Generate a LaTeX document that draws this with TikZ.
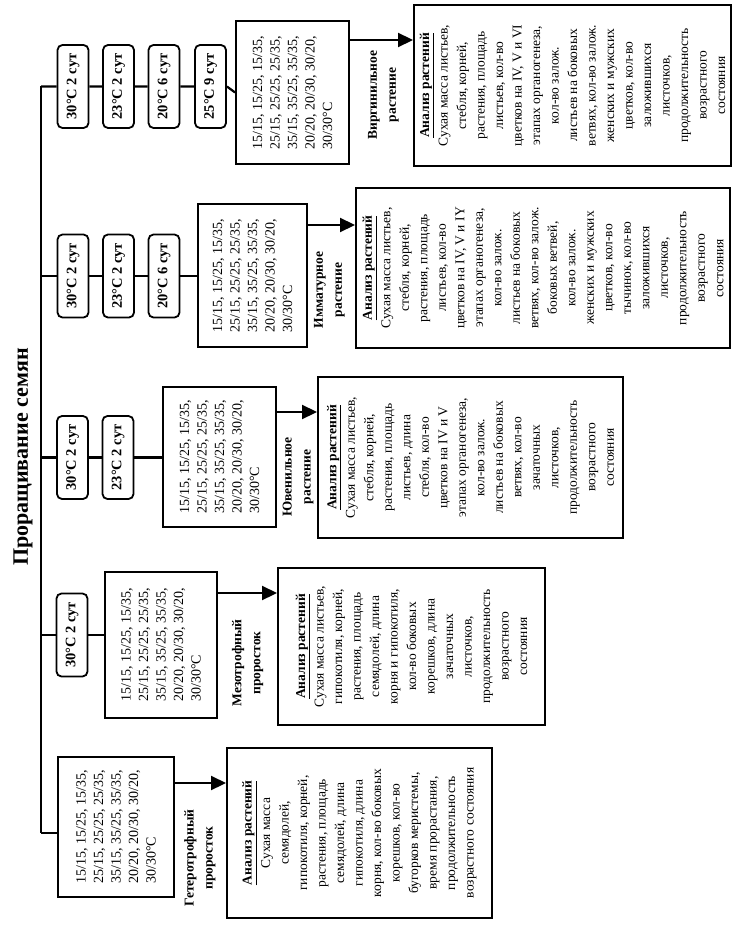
\documentclass[tikz,border=0pt]{standalone}
\usepackage{fontspec}
\setmainfont{Liberation Serif}
\usetikzlibrary{arrows.meta}
\newcommand\AnHead{\underline{\textbf{Анализ растений}}}
\newcommand\DataText{15/15, 15/25, 15/35,\\25/15, 25/25, 25/35,\\35/15, 35/25, 35/35,\\20/20, 20/30, 30/20,\\30/30°C}
\begin{document}
\begin{tikzpicture}[x=1pt,y=-1pt,
  ln/.style={line width=2.2pt},
  tbox/.style={draw, line width=1.8pt, rounded corners=5pt, rotate=90, minimum width=83pt, minimum height=31pt, inner sep=0pt, font=\bfseries\fontsize{14.5}{15}\selectfont},
  dbox/.style={draw, line width=1.8pt, rotate=90, inner sep=0pt, align=left, font=\fontsize{14}{17.5}\selectfont},
  abox/.style={draw, line width=2pt, rotate=90, inner sep=0pt, align=center, font=\fontsize{13.5}{18.5}\selectfont},
  lbl/.style={rotate=90, align=center, inner sep=0pt, font=\bfseries\fontsize{13.5}{19}\selectfont},
  arr/.style={line width=2.2pt, -{Triangle[length=15pt,width=14pt]}},
  ttl/.style={rotate=90, inner sep=0pt, font=\bfseries\fontsize{22}{24}\selectfont}]
\useasboundingbox[fill=white] (0,0) rectangle (734,928);

% title
\node[ttl] (title) at (23,457) {Проращивание семян};

% spine coordinates
\coordinate (b5) at (41,86.5);
\coordinate (b4) at (41,276);
\coordinate (b3) at (41,457.5);
\coordinate (b2) at (41,635);
\coordinate (b1) at (41,833);

% arrow heights
\coordinate (ar5) at (0,40);
\coordinate (ar4) at (0,225);
\coordinate (ar3) at (0,412);
\coordinate (ar2) at (0,593);
\coordinate (ar1) at (0,783);

% temperature boxes
\node[tbox] (t51) at (73,86.5) {30°C 2 сут};
\node[tbox] (t52) at (118.5,86.5) {23°C 2 сут};
\node[tbox] (t53) at (164,86.5) {20°C 6 сут};
\node[tbox] (t54) at (210.5,86.5) {25°C 9 сут};
\node[tbox] (t41) at (73,276) {30°C 2 сут};
\node[tbox] (t42) at (118.5,276) {23°C 2 сут};
\node[tbox] (t43) at (164,276) {20°C 6 сут};
\node[tbox] (t31) at (72.5,457.5) {30°C 2 сут};
\node[tbox] (t32) at (118,457.5) {23°C 2 сут};
\node[tbox] (t21) at (72,635) {30°C 2 сут};

% data boxes
\node[dbox, minimum width=143pt, minimum height=113pt] (d5) at (292.5,92.5) {\DataText};
\node[dbox, minimum width=143pt, minimum height=109pt] (d4) at (252.5,275.5) {\DataText};
\node[dbox, minimum width=140pt, minimum height=113pt] (d3) at (219.5,457) {\DataText};
\node[dbox, minimum width=146pt, minimum height=112pt] (d2) at (161,645) {\DataText};
\node[dbox, minimum width=140pt, minimum height=116pt] (d1) at (116,827) {\DataText};

% analysis boxes
\node[abox, minimum width=161pt, minimum height=317pt] (a5) at (572.5,85.5) {\AnHead\\Сухая масса листьев,\\стебля, корней,\\растения, площадь\\листьев, кол-во\\цветков на IV, V и VI\\этапах органогенеза,\\кол-во залож.\\листьев на боковых\\ветвях, кол-во залож.\\женских и мужских\\цветков, кол-во\\заложившихся\\листочков,\\продолжительность\\возрастного\\состояния};
\node[abox, minimum width=160pt, minimum height=374pt] (a4) at (543,268) {\AnHead\\Сухая масса листьев,\\стебля, корней,\\растения, площадь\\листьев, кол-во\\цветков на IV, V и IY\\этапах органогенеза,\\кол-во залож.\\листьев на боковых\\ветвях, кол-во залож.\\боковых ветвей,\\кол-во залож.\\женских и мужских\\цветков, кол-во\\тычинок, кол-во\\заложившихся\\листочков,\\продолжительность\\возрастного\\состояния};
\node[abox, minimum width=161pt, minimum height=305pt] (a3) at (470.5,457.5) {\AnHead\\Сухая масса листьев,\\стебля, корней,\\растения, площадь\\листьев, длина\\стебля, кол-во\\цветков на IV и V\\этапах органогенеза,\\кол-во залож.\\листьев на боковых\\ветвях, кол-во\\зачаточных\\листочков,\\продолжительность\\возрастного\\состояния};
\node[abox, minimum width=157pt, minimum height=267pt] (a2) at (411.5,646.5) {\AnHead\\Сухая масса листьев,\\гипокотиля, корней,\\растения, площадь\\семядолей, длина\\корня и гипокотиля,\\кол-во боковых\\корешков, длина\\зачаточных\\листочков,\\продолжительность\\возрастного\\состояния};
\node[abox, minimum width=170pt, minimum height=265pt] (a1) at (359.5,833) {\AnHead\\Сухая масса\\семядолей,\\гипокотиля, корней,\\растения, площадь\\семядолей, длина\\гипокотиля, длина\\корня, кол-во боковых\\корешков, кол-во\\бугорков меристемы,\\время прорастания,\\продолжительность\\возрастного состояния};

% stage labels
\node[lbl] (l5) at (383.5,95) {Виргинильное\\растение};
\node[lbl] (l4) at (329.5,290) {Иммaтурное\\растение};
\node[lbl] (l3) at (298,477) {Ювенильное\\растение};
\node[lbl] (l2) at (247.5,663) {Мезотрофный\\проросток};
\node[lbl] (l1) at (200,858) {Гетеротрофный\\проросток};

% spine and branches
\draw[ln] (b5) -- (b1);
\draw[ln] (b5) -- (t51.north) (t51.south) -- (t52.north) (t52.south) -- (t53.north) (t53.south) -- (t54.north) (t54.south) -- (d5.north);
\draw[ln] (b4) -- (t41.north) (t41.south) -- (t42.north) (t42.south) -- (t43.north) (t43.south) -- (d4.north |- b4);
\draw[ln] (b3) -- (t31.north) (t31.south) -- (t32.north) (t32.south) -- (d3.north |- b3);
\draw[ln] (b2) -- (t21.north) (t21.south) -- (d2.north |- b2);
\draw[ln] (b1) -- (d1.north |- b1);

% arrows
\draw[arr] (d5.south |- ar5) -- (a5.north |- ar5);
\draw[arr] (d4.south |- ar4) -- (a4.north |- ar4);
\draw[arr] (d3.south |- ar3) -- (a3.north |- ar3);
\draw[arr] (d2.south |- ar2) -- (a2.north |- ar2);
\draw[arr] (d1.south |- ar1) -- (a1.north |- ar1);
\end{tikzpicture}
\end{document}
